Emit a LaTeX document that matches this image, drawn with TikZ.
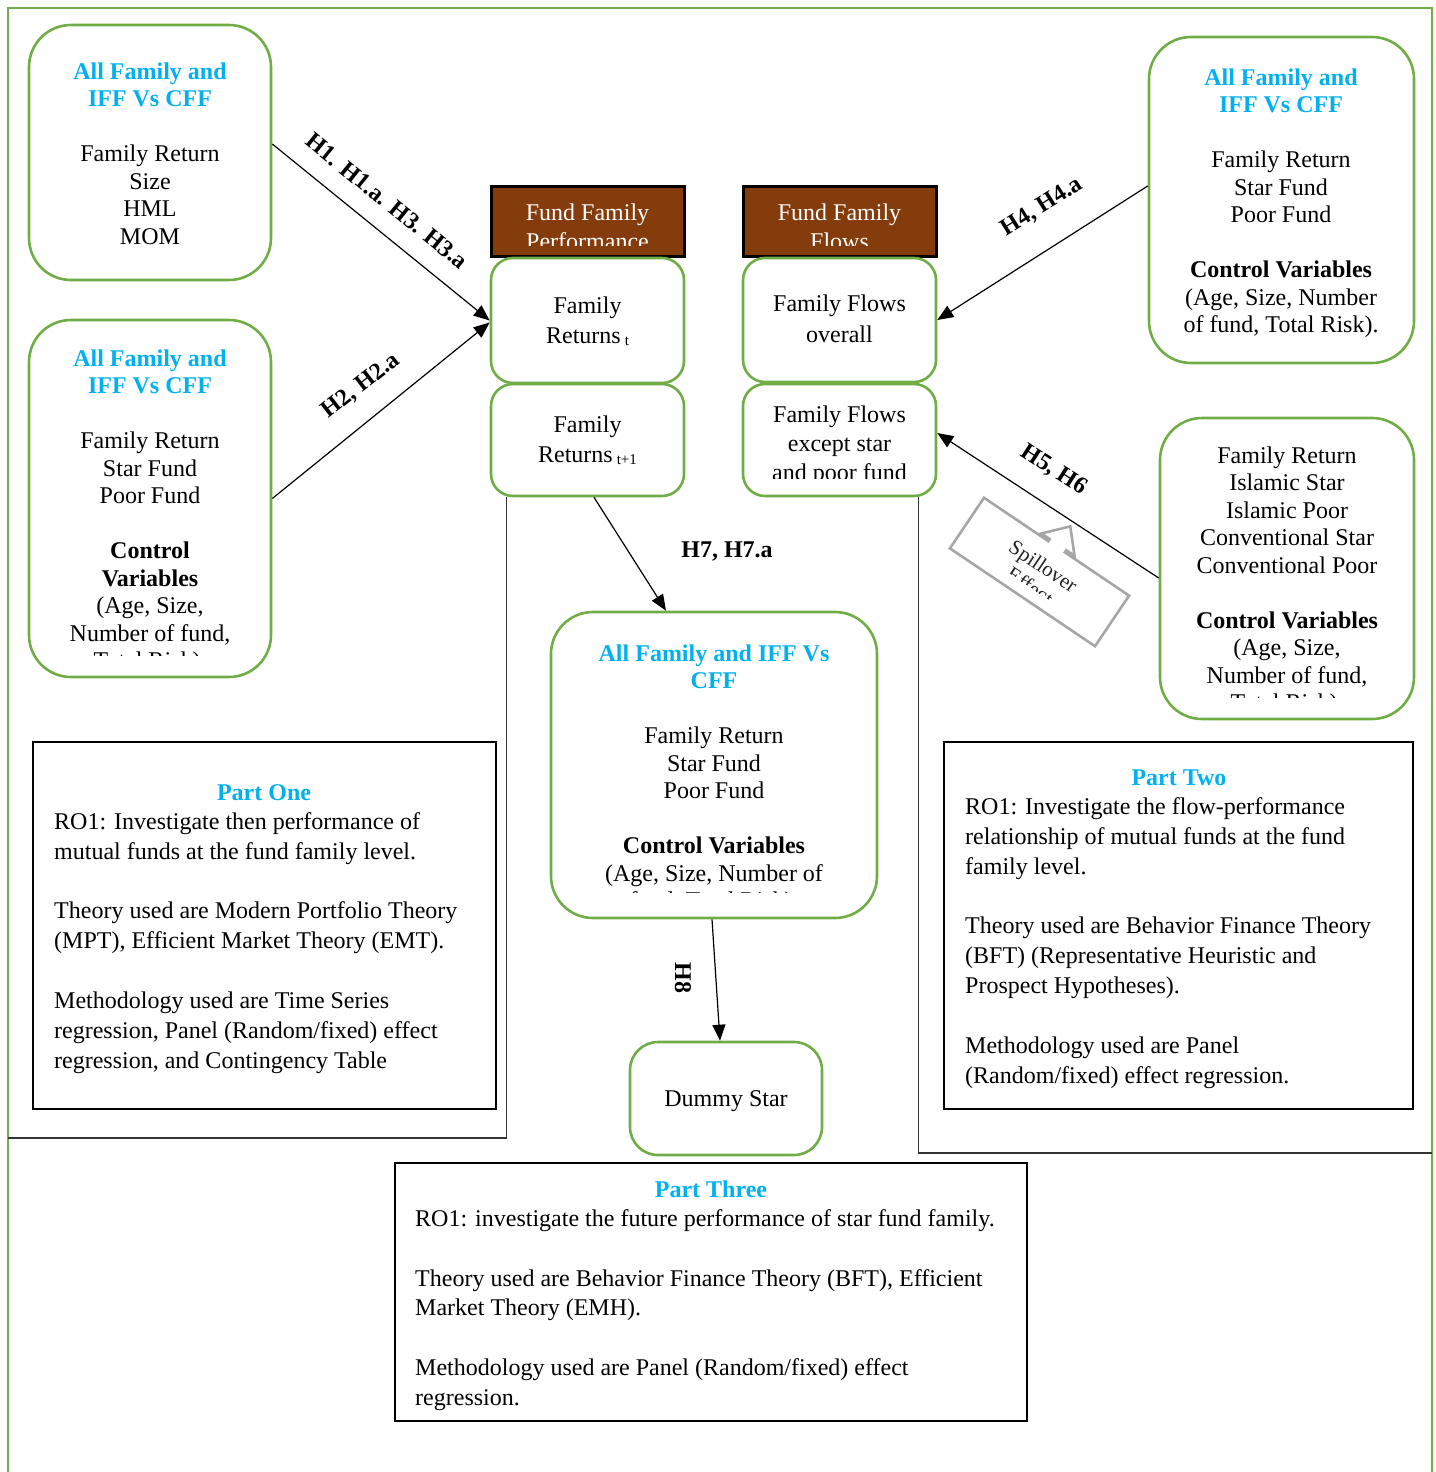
\documentclass[tikz,border=0pt]{standalone}
\usepackage{fontspec}
\setmainfont{Liberation Serif}
\usetikzlibrary{arrows.meta}
\definecolor{fgreen}{HTML}{70AD47}
\definecolor{fblue}{HTML}{00B0F0}
\definecolor{fbrown}{HTML}{843C0C}
\definecolor{fgray}{HTML}{A6A6A6}
\newcommand\topstrut{\vrule height 18pt depth 0pt width 0pt}
\newcommand\bluet[1]{{\bfseries\color{fblue}#1}}
\newcommand\subsm[1]{\,\raisebox{-2pt}{\fontsize{15}{15}\selectfont #1}}
\tikzset{
  gbox/.style={draw=fgreen, line width=2.6, rounded corners=42, inner sep=0},
  sbox/.style={draw=fgreen, line width=2.6, rounded corners=22, inner sep=0, fill=white},
  hbox/.style={draw=black, line width=3, fill=fbrown, inner sep=0},
  pbox/.style={draw=black, line width=2.8, inner sep=0},
  txt/.style={inner sep=0, anchor=north, align=center, font=\fontsize{24}{27.5}\selectfont},
  stxt/.style={inner sep=0, anchor=north, align=center, font=\fontsize{24}{30}\selectfont},
  btxt/.style={inner sep=0, anchor=north west, align=left, font=\fontsize{24}{29.9}\selectfont},
  ptitle/.style={inner sep=0, anchor=north, font=\bfseries\fontsize{24}{29.9}\selectfont, text=fblue},
  lab/.style={inner sep=0, font=\bfseries\fontsize{24}{28}\selectfont},
  conn/.style={line width=1.2, -{Triangle[length=16pt,width=13pt]}},
  thinline/.style={line width=1.3, draw=black!80},
}
\begin{document}
\begin{tikzpicture}[x=1pt,y=1pt]
\useasboundingbox (0,0) rectangle (1435,-1472);
% outer frame
\draw[draw=fgreen, line width=2.6] (8,-1472) -- (8,-8) -- (1432,-8) -- (1432,-1472);

% corner coordinates for thin lines
\coordinate (lcor) at (8,-1138);
\coordinate (rcor) at (1432,-1153);

% boxes
\node[gbox, minimum width=242, minimum height=255] (b1) at (150,-152.5) {};
\node[gbox, minimum width=242, minimum height=357] (b2) at (150,-498.5) {};
\node[hbox, minimum width=193, minimum height=70] (hp) at (587.5,-221) {};
\node[hbox, minimum width=193, minimum height=70] (hf) at (839.5,-221) {};
\node[sbox, minimum width=193, minimum height=125] (frt) at (587.5,-320.5) {};
\node[sbox, minimum width=193, minimum height=112] (fr1) at (587.5,-440) {};
\node[sbox, minimum width=193, minimum height=124] (ffo) at (839.5,-320) {};
\node[sbox, minimum width=193, minimum height=112] (ffe) at (839.5,-440) {};
\node[gbox, minimum width=265, minimum height=326] (rt) at (1281.5,-200) {};
\node[gbox, minimum width=254, minimum height=301] (rm) at (1287,-568.5) {};
\node[gbox, minimum width=326, minimum height=306] (cb) at (714,-765) {};
\node[sbox, rounded corners=28, minimum width=192, minimum height=113] (ds) at (726,-1098.5) {};
\node[pbox, minimum width=463, minimum height=367] (p1) at (264.5,-925.5) {};
\node[pbox, minimum width=469, minimum height=367] (p2) at (1178.5,-925.5) {};
\node[pbox, minimum width=632, minimum height=258] (p3) at (711,-1292) {};

% thin L lines
\draw[thinline] ([xshift=17]fr1.south west) |- (lcor);
\draw[thinline] ([xshift=-19]ffe.south east) |- (rcor);

% texts in boxes
\node[txt] (t1) at (150,-61) {\topstrut\bluet{All Family and}\\ \bluet{IFF Vs CFF}\\[27.5pt] Family Return\\ Size\\ HML\\ MOM};
\begin{scope}
\clip (29,-320) rectangle (271,-655);
\node[txt] (t2) at (150,-348) {\topstrut\bluet{All Family and}\\ \bluet{IFF Vs CFF}\\[27.5pt] Family Return\\ Star Fund\\ Poor Fund\\[27.5pt] \textbf{Control}\\ \textbf{Variables}\\ (Age, Size,\\ Number of fund,\\ Total Risk).};
\end{scope}
\node[txt] (trt) at (1281,-67) {\topstrut\bluet{All Family and}\\ \bluet{IFF Vs CFF}\\[27.5pt] Family Return\\ Star Fund\\ Poor Fund\\[27.5pt] \textbf{Control Variables}\\ (Age, Size, Number\\ of fund, Total Risk).};
\begin{scope}
\clip (1160,-418) rectangle (1414,-697);
\node[txt] (trm) at (1287,-445) {\topstrut Family Return\\ Islamic Star\\ Islamic Poor\\ Conventional Star\\ Conventional Poor\\[27.5pt] \textbf{Control Variables}\\ (Age, Size,\\ Number of fund,\\ Total Risk).};
\end{scope}
\begin{scope}
\clip (551,-612) rectangle (877,-892);
\node[txt] (tcb) at (714,-643) {\topstrut\bluet{All Family and IFF Vs}\\ \bluet{CFF}\\[27.5pt] Family Return\\ Star Fund\\ Poor Fund\\[27.5pt] \textbf{Control Variables}\\ (Age, Size, Number of\\ fund, Total Risk).};
\end{scope}
\begin{scope}
\clip (491,-186) rectangle (936,-245);
\node[stxt, text=white, font=\fontsize{24}{29}\selectfont] (thp) at (587.5,-202) {\topstrut Fund Family\\ Performance};
\node[stxt, text=white, font=\fontsize{24}{29}\selectfont] (thf) at (839.5,-202) {\topstrut Fund Family\\ Flows};
\end{scope}
\node[stxt] (tfrt) at (587.5,-295.5) {\topstrut Family\\ Returns\subsm{t}};
\node[stxt] (tfr1) at (587.5,-414.5) {\topstrut Family\\ Returns\subsm{t+1}};
\node[stxt, font=\fontsize{24}{30.5}\selectfont] (tffo) at (839.5,-293.5) {\topstrut Family Flows\\ overall};
\begin{scope}
\clip (743,-384) rectangle (936,-478);
\node[stxt, font=\fontsize{24}{29}\selectfont] (tffe) at (839.5,-404) {\topstrut Family Flows\\ except star\\ and poor fund};
\end{scope}
\node[stxt] (tds) at (726,-1088) {\topstrut Dummy Star};

% part boxes texts
\node[ptitle] (pt1) at (264,-782) {\topstrut Part One};
\node[btxt] (pb1) at (54,-811) {\topstrut RO1: Investigate then performance of\\ mutual funds at the fund family level.\\[29.9pt] Theory used are Modern Portfolio Theory\\ (MPT), Efficient Market Theory (EMT).\\[29.9pt] Methodology used are Time Series\\ regression, Panel (Random/fixed) effect\\ regression, and Contingency Table};
\node[ptitle] (pt2) at (1179,-767) {\topstrut Part Two};
\node[btxt] (pb2) at (965,-796) {\topstrut RO1: Investigate the flow-performance\\ relationship of mutual funds at the fund\\ family level.\\[29.9pt] Theory used are Behavior Finance Theory\\ (BFT) (Representative Heuristic and\\ Prospect Hypotheses).\\[29.9pt] Methodology used are Panel\\ (Random/fixed) effect regression.};
\node[ptitle] (pt3) at (711,-1179) {\topstrut Part Three};
\node[btxt] (pb3) at (415,-1208) {\topstrut RO1: investigate the future performance of star fund family.\\[29.9pt] Theory used are Behavior Finance Theory (BFT), Efficient\\ Market Theory (EMH).\\[29.9pt] Methodology used are Panel (Random/fixed) effect\\ regression.};

% connectors
\draw[conn] ([yshift=8.5]b1.east) -- (frt.west);
\draw[conn] (b2.east) -- ([yshift=-2]frt.west);
\draw[conn] ([yshift=14]rt.west) -- (ffo.east);
\draw[conn] ([yshift=-9.5]rm.west) -- ([yshift=7]ffe.east);
\draw[conn] ([xshift=6.5]fr1.south) -- ([xshift=-48]cb.north);
\draw[conn] ([xshift=-2]cb.south) -- ([xshift=-6]ds.north);

% labels
\node[lab, rotate=-39] (l1) at (387,-201) {H1. H1.a. H3. H3.a};
\node[lab, rotate=38] (l2) at (361,-386) {H2, H2.a};
\node[lab, rotate=32] (l4) at (1042,-207) {H4, H4.a};
\node[lab, rotate=-33] (l5) at (1054,-470) {H5, H6};
\node[lab] (l7) at (727,-551) {H7, H7.a};
\node[lab, rotate=-90] (l8) at (683,-978) {H8};

% spillover callout
\begin{scope}[shift={(1039.5,-572)}, rotate=-34]
\draw[draw=fgray, line width=2.6, fill=white, line join=miter]
  (-87.5,-30.5) -- (-87.5,30.5) -- (-10,30.5) -- (-10,33) -- (-20,33) -- (0,55)
  -- (20,33) -- (10,33) -- (10,30.5) -- (87.5,30.5) -- (87.5,-30.5) -- cycle;
\begin{scope}
\clip (-86,-17.7) rectangle (86,29);
\node[transform shape, inner sep=0, anchor=north, align=center, font=\fontsize{21}{24}\selectfont, text=black!85] (spill) at (0,16) {\vrule height 16pt depth 0pt width 0pt Spillover\\ Effect};
\end{scope}
\end{scope}
\end{tikzpicture}
\end{document}
